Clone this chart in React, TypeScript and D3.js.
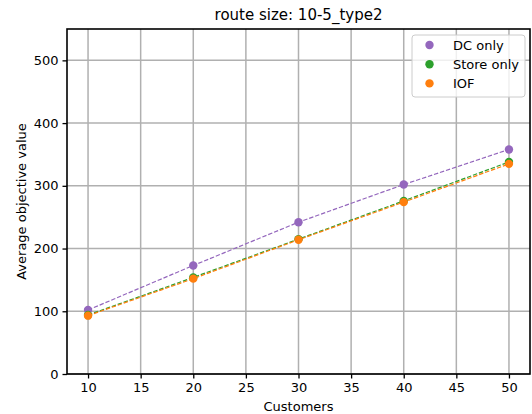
import { useEffect, useRef } from "react"
import * as d3 from "d3"

const customers = [10, 20, 30, 40, 50]
const dcOnly = [102, 173, 242, 302, 358]
const storeOnly = [94, 154, 215, 276, 338]
const iof = [93, 152, 214, 274, 335]

const seriesNames = ["DC only", "Store only", "IOF"]
const seriesColors = ["#9467bd", "#2ca02c", "#ff7f0e"]
const xTicks = [10, 15, 20, 25, 30, 35, 40, 45, 50]
const yTicks = [0, 100, 200, 300, 400, 500]

const font = "DejaVu Sans"

export default function App() {
  const svgRef = useRef<SVGSVGElement>(null)

  useEffect(() => {
    if (!svgRef.current) return
    const svg = d3.select(svgRef.current)
    svg.selectAll("*").remove()

    const width = 532
    const height = 414
    const margin = { top: 29, right: 2, bottom: 40, left: 67 }
    const innerWidth = width - margin.left - margin.right
    const innerHeight = height - margin.top - margin.bottom

    const x = d3.scaleLinear().domain([8, 52]).range([0, innerWidth])
    const y = d3.scaleLinear().domain([0, 550]).range([innerHeight, 0])

    svg.append("rect").attr("width", width).attr("height", height).attr("fill", "white")

    const g = svg.append("g").attr("transform", `translate(${margin.left},${margin.top})`)

    // grid
    xTicks.forEach(t => {
      g.append("line")
        .attr("x1", x(t)).attr("x2", x(t))
        .attr("y1", 0).attr("y2", innerHeight)
        .attr("stroke", "#b0b0b0").attr("stroke-width", 1.5)
    })
    yTicks.forEach(t => {
      g.append("line")
        .attr("x1", 0).attr("x2", innerWidth)
        .attr("y1", y(t)).attr("y2", y(t))
        .attr("stroke", "#b0b0b0").attr("stroke-width", 1.5)
    })

    // series
    const allSeries = [dcOnly, storeOnly, iof]
    const line = d3.line<number>()
      .x((_, i) => x(customers[i]))
      .y(d => y(d))

    allSeries.forEach((vals, si) => {
      g.append("path")
        .datum(vals)
        .attr("d", line)
        .attr("fill", "none")
        .attr("stroke", seriesColors[si])
        .attr("stroke-width", 1.2)
        .attr("stroke-dasharray", "4.4,1.9")
      g.selectAll(null)
        .data(vals)
        .enter()
        .append("circle")
        .attr("cx", (_, i) => x(customers[i]))
        .attr("cy", d => y(d))
        .attr("r", 4.2)
        .attr("fill", seriesColors[si])
    })

    // axes
    const xAxis = d3.axisBottom(x).tickValues(xTicks).tickSize(4.5).tickPadding(4)
    const yAxis = d3.axisLeft(y).tickValues(yTicks).tickSize(4.5).tickPadding(4)

    const gx = g.append("g").attr("transform", `translate(0,${innerHeight})`).call(xAxis)
    const gy = g.append("g").call(yAxis)
    ;[gx, gy].forEach(a => {
      a.select(".domain").remove()
      a.selectAll(".tick line").attr("stroke", "black").attr("stroke-width", 1.3)
      a.selectAll(".tick text")
        .style("font-family", font)
        .style("font-size", "13px")
        .attr("fill", "#000")
    })

    // spines
    g.append("rect")
      .attr("width", innerWidth)
      .attr("height", innerHeight)
      .attr("fill", "none")
      .attr("stroke", "black")
      .attr("stroke-width", 1.6)

    // labels
    svg.append("text")
      .attr("x", margin.left + innerWidth / 2)
      .attr("y", 20)
      .attr("text-anchor", "middle")
      .style("font-family", font)
      .style("font-size", "15px")
      .text("route size: 10-5_type2")

    svg.append("text")
      .attr("x", margin.left + innerWidth / 2)
      .attr("y", 411)
      .attr("text-anchor", "middle")
      .style("font-family", font)
      .style("font-size", "13px")
      .text("Customers")

    svg.append("text")
      .attr("transform", `translate(26,${margin.top + innerHeight / 2}) rotate(-90)`)
      .attr("text-anchor", "middle")
      .style("font-family", font)
      .style("font-size", "13px")
      .text("Average objective value")

    // legend
    const legend = svg.append("g").attr("transform", "translate(412,35)")
    legend.append("rect")
      .attr("width", 113)
      .attr("height", 62)
      .attr("rx", 3)
      .attr("fill", "white")
      .attr("fill-opacity", 0.8)
      .attr("stroke", "#cccccc")
      .attr("stroke-width", 1)
    seriesNames.forEach((name, i) => {
      const cy = 10 + i * 19.2
      legend.append("circle")
        .attr("cx", 17.5)
        .attr("cy", cy)
        .attr("r", 4.2)
        .attr("fill", seriesColors[i])
      legend.append("text")
        .attr("x", 41)
        .attr("y", cy)
        .attr("dy", "0.35em")
        .style("font-family", font)
        .style("font-size", "13px")
        .text(name)
    })
  }, [])

  return <svg ref={svgRef} width={532} height={414} style={{ display: "block", position: "absolute", left: 0, top: 0 }} />
}
